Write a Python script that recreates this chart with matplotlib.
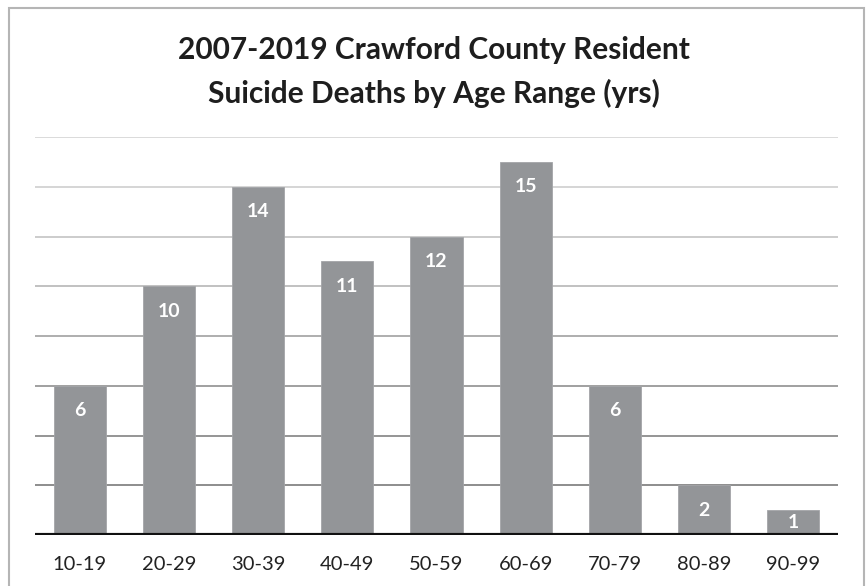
import matplotlib
matplotlib.use("Agg")
import matplotlib.pyplot as plt
from matplotlib.patches import Rectangle

categories = ["10-19", "20-29", "30-39", "40-49", "50-59", "60-69", "70-79", "80-89", "90-99"]
deaths = [6, 10, 14, 11, 12, 15, 6, 2, 1]
grid_values = [2, 4, 6, 8, 10, 12, 14, 16]
grid_colors = ["#858585", "#8c8c8c", "#989898", "#a8a8a8", "#bcbcbc", "#c8c8c8", "#d2d2d2", "#d8d8d8"]

plt.rcParams['font.family'] = ['Lato', 'DejaVu Sans']

fig = plt.figure(figsize=(8.67, 5.86), dpi=100)
fig.patch.set_facecolor("white")

# outer chart border
fig.add_artist(Rectangle((9/867, -0.05), (864-9)/867, 1.05 - 8/586,
                         transform=fig.transFigure, fill=False,
                         edgecolor="#b5b5b5", linewidth=1.5))

ax = fig.add_axes([35/867, 1-535/586, (838-35)/867, (535-137)/586])
x = list(range(len(categories)))
ax.bar(x, deaths, width=0.585, color="#939598", edgecolor="#a3a5a8", linewidth=0.6, zorder=2)

for gv, gc in zip(grid_values, grid_colors):
    ax.axhline(gv, color=gc, linewidth=1.3, zorder=1)
ax.axhline(0, color="#111111", linewidth=3.0, zorder=4)

ax.set_xlim(-0.5, len(categories) - 0.5)
ax.set_ylim(0, 16)
ax.set_xticks(x)
ax.set_xticklabels(categories, fontsize=14.5, color="#222222")
ax.set_yticks([])
ax.tick_params(axis="x", length=0, pad=15)
for s in ax.spines.values():
    s.set_visible(False)

for xi, v in zip(x, deaths):
    ax.text(xi, max(v - 1.0, v / 2), str(v), ha="center", va="center",
            color="white", fontsize=14, fontweight="bold", zorder=5)

fig.text(0.5, 1 - 50/586, "2007-2019 Crawford County Resident", ha="center", va="center",
         fontsize=21.5, fontweight="bold", color="#1e1e1e")
fig.text(0.5, 1 - 93/586, "Suicide Deaths by Age Range (yrs)", ha="center", va="center",
         fontsize=21.5, fontweight="bold", color="#1e1e1e")

fig.savefig("out.png", dpi=100)
